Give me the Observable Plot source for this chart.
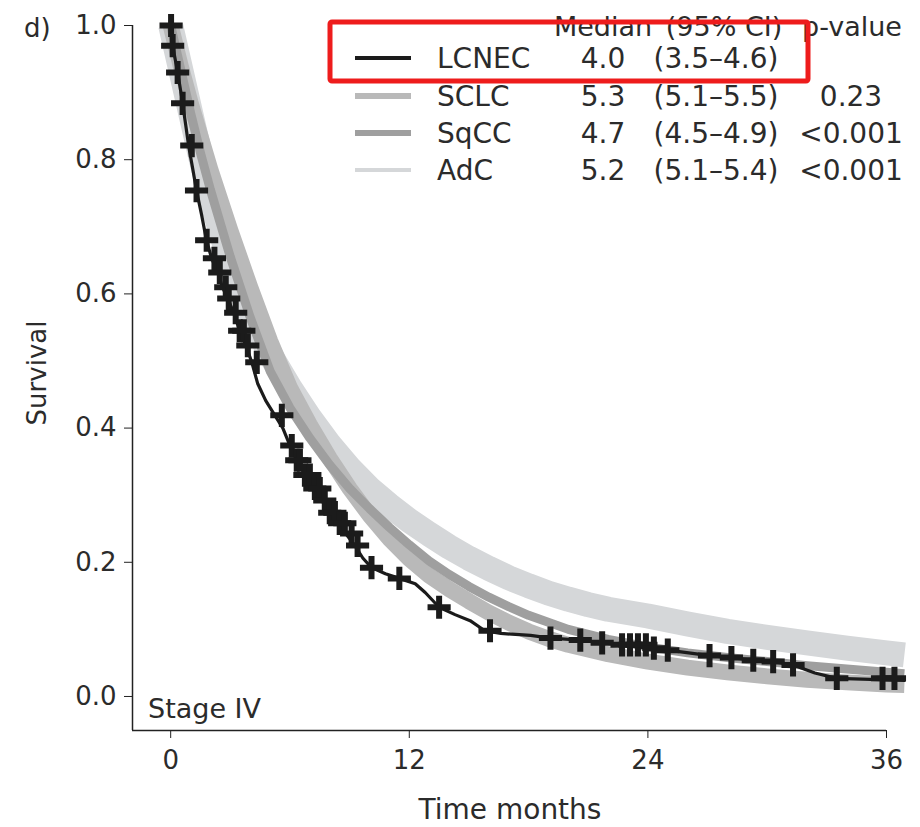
<!DOCTYPE html>
<html><head><meta charset="utf-8">
<script src="https://cdn.jsdelivr.net/npm/d3@7"></script>
<script src="https://cdn.jsdelivr.net/npm/@observablehq/plot@0.6"></script>
<style>
html,body{margin:0;padding:0;background:#fff;}
#chart{position:relative;width:920px;height:827px;overflow:hidden;}
svg text{font-family:"DejaVu Sans",sans-serif;}
</style></head><body><div id="chart"></div>
<script>
// ---- legend table ----
const groups = ["LCNEC", "SCLC", "SqCC", "AdC"];
const medians = ["4.0", "5.3", "4.7", "5.2"];
const cis = ["(3.5–4.6)", "(5.1–5.5)", "(4.5–4.9)", "(5.1–5.4)"];
const pvalues = ["", "0.23", "<0.001", "<0.001"];
const colors = ["#1b1b1b", "#b9b9b9", "#9f9f9f", "#d5d7d9"];

// ---- axes ----
const xTicks = [0, 12, 24, 36];
const yTicks = [0, 0.2, 0.4, 0.6, 0.8, 1.0];
const xDomain = [-1.92, 36];
const yDomain = [-0.0507, 1];

// ---- LCNEC Kaplan-Meier (months, survival) ----
const lcnecTime = [0,0.05,0.1,0.25,0.35,0.5,0.6,0.76,0.9,1.1,1.3,1.56,1.8,2.06,2.37,2.6,2.87,3.17,3.47,3.78,4.08,4.38,4.78,5.24,5.64,6.0,6.34,6.75,7.15,7.6,8.0,8.4,8.8,9.26,9.67,10.1,10.8,11.5,12.3,12.8,13.5,14.3,15.06,15.8,16.6,18.1,19.1,20.6,21.7,22.7,24.0,25.0,27.1,28.2,29.3,30.3,31.3,32.4,33.5,36.9];
const lcnecSurv = [1.0,0.99,0.97,0.946,0.93,0.903,0.884,0.851,0.821,0.788,0.754,0.717,0.68,0.653,0.632,0.61,0.593,0.572,0.545,0.523,0.498,0.466,0.441,0.419,0.4,0.374,0.352,0.33,0.31,0.292,0.274,0.258,0.243,0.225,0.206,0.192,0.183,0.176,0.168,0.155,0.133,0.122,0.113,0.098,0.094,0.091,0.087,0.084,0.08,0.077,0.072,0.069,0.061,0.058,0.054,0.052,0.047,0.035,0.027,0.024];
const lcnecCensor = [0.02,0.1,0.35,0.6,1.06,1.3,1.81,2.2,2.47,2.77,2.92,3.27,3.47,3.68,3.88,4.33,5.59,6.09,6.34,6.5,6.75,7.0,7.25,7.5,7.75,8.0,8.26,8.5,8.76,9.1,9.4,10.1,11.5,13.5,16.06,19.1,20.6,21.7,22.7,23.1,23.5,23.9,24.3,25.0,27.1,28.2,29.3,30.3,31.3,33.5,35.8,36.4];

// ---- SCLC ----
const sclcTime = [0,0.5,1,1.5,2,3,4,5,6,7,8,9,10,11,12,13,14,15,16,17,18,19,20,22,24,26,28,30,32,34,36,36.9];
const sclcSurv = [1.0,0.94,0.885,0.835,0.785,0.695,0.61,0.53,0.46,0.405,0.355,0.31,0.27,0.235,0.205,0.18,0.16,0.142,0.125,0.11,0.097,0.086,0.077,0.063,0.052,0.043,0.036,0.03,0.025,0.021,0.018,0.017];

// ---- SqCC ----
const sqccTime = [0,0.5,1,1.5,2,3,4,5,6,7,8,9,10,11,12,13,14,15,16,17,18,20,22,24,26,28,30,32,34,36,36.9];
const sqccSurv = [1.0,0.935,0.87,0.81,0.755,0.655,0.565,0.485,0.43,0.385,0.345,0.31,0.28,0.252,0.226,0.202,0.182,0.164,0.148,0.134,0.121,0.1,0.085,0.074,0.065,0.058,0.052,0.046,0.041,0.036,0.034];

// ---- AdC ----
const adcTime = [0,0.5,1,1.5,2,3,4,5,6,7,8,9,10,11,12,13,14,15,16,17,18,19,20,21,22,24,26,28,30,32,34,36,36.9];
const adcSurv = [1.0,0.935,0.87,0.805,0.745,0.645,0.57,0.51,0.46,0.415,0.375,0.34,0.31,0.285,0.262,0.242,0.223,0.206,0.191,0.177,0.165,0.154,0.145,0.137,0.13,0.12,0.108,0.097,0.088,0.08,0.072,0.065,0.062];

const FONT = '"DejaVu Sans",sans-serif';
const TXT = "#2b2b2b";

const toRows = (T, S) => T.map((t, i) => ({t, s: S[i]}));
const lcnec = toRows(lcnecTime, lcnecSurv);
const sclc = toRows(sclcTime, sclcSurv);
const sqcc = toRows(sqccTime, sqccSurv);
const adc = toRows(adcTime, adcSurv);
const stepAt = t => { let v = lcnecSurv[0]; lcnecTime.forEach((tt, i) => { if (tt <= t) v = lcnecSurv[i]; }); return v; };
const censor = lcnecCensor.map(t => ({t, s: stepAt(t)}));

const plot = Plot.plot({
  width: 920, height: 827,
  marginLeft: 132, marginRight: 34, marginTop: 25, marginBottom: 97,
  x: {domain: xDomain},
  y: {domain: yDomain},
  style: {fontFamily: FONT, fontSize: "26px", color: TXT, background: "#fff"},
  marks: [
    Plot.axisX({ticks: xTicks, tickSize: 8, tickPadding: 12, label: null, fontSize: 26, stroke: "#222"}),
    Plot.axisY({ticks: yTicks, tickSize: 8, tickPadding: 8, label: null, tickFormat: d3.format(".1f"), fontSize: 26, stroke: "#222"}),
    Plot.ruleX([xDomain[0]], {y1: yDomain[0], y2: yDomain[1], stroke: "#222", strokeWidth: 1.5}),
    Plot.ruleY([yDomain[0]], {x1: xDomain[0], x2: xTicks[xTicks.length - 1], stroke: "#222", strokeWidth: 1.5}),
    Plot.line(adc, {x: "t", y: "s", stroke: colors[3], strokeWidth: 25, strokeLinecap: "butt"}),
    Plot.line(sclc, {x: "t", y: "s", stroke: colors[1], strokeWidth: 16, strokeLinecap: "butt"}),
    Plot.line(sqcc, {x: "t", y: "s", stroke: colors[2], strokeWidth: 9, strokeLinecap: "butt"}),
    Plot.line(lcnec, {x: "t", y: "s", stroke: colors[0], strokeWidth: 3.2}),
    Plot.dot(censor, {x: "t", y: "s", symbol: "plus", r: 7.5, fill: "none", stroke: colors[0], strokeWidth: 6})
  ]
});

const svg = d3.select(plot);
const addText = (x, y, str, anchor, size, extra) => {
  const t = svg.append("text").attr("x", x).attr("y", y).attr("text-anchor", anchor)
    .attr("fill", TXT).style("font-family", FONT).style("font-size", size + "px").text(str);
  if (extra) extra(t);
  return t;
};
// panel letter and axis titles
addText(24, 37, "d)", "start", 26);
addText(0, 0, "Survival", "middle", 26, t => t.attr("transform", "translate(46,373) rotate(-90)"));
addText(510, 819, "Time months", "middle", 28);
addText(148, 718, "Stage IV", "start", 27);

// legend
const rowBase = [68, 106, 143, 180];
const swW = [4, 6, 6, 4];
addText(603, 36, "Median", "middle", 27);
addText(724, 36, "(95% CI)", "middle", 27);
addText(852, 36, "p-value", "middle", 27);
groups.forEach((g, i) => {
  svg.append("line").attr("x1", 355).attr("x2", 411).attr("y1", rowBase[i] - 10).attr("y2", rowBase[i] - 10)
    .attr("stroke", colors[i]).attr("stroke-width", swW[i]);
  addText(437, rowBase[i], g, "start", 28);
  addText(603, rowBase[i], medians[i], "middle", 28);
  addText(716, rowBase[i], cis[i], "middle", 28);
  addText(851, rowBase[i], pvalues[i], "middle", 28);
});
// red highlight box
svg.append("rect").attr("x", 330).attr("y", 22).attr("width", 478).attr("height", 59).attr("rx", 2)
  .attr("fill", "none").attr("stroke", "#ee1c1c").attr("stroke-width", 5);

document.getElementById("chart").append(plot);
</script></body></html>
